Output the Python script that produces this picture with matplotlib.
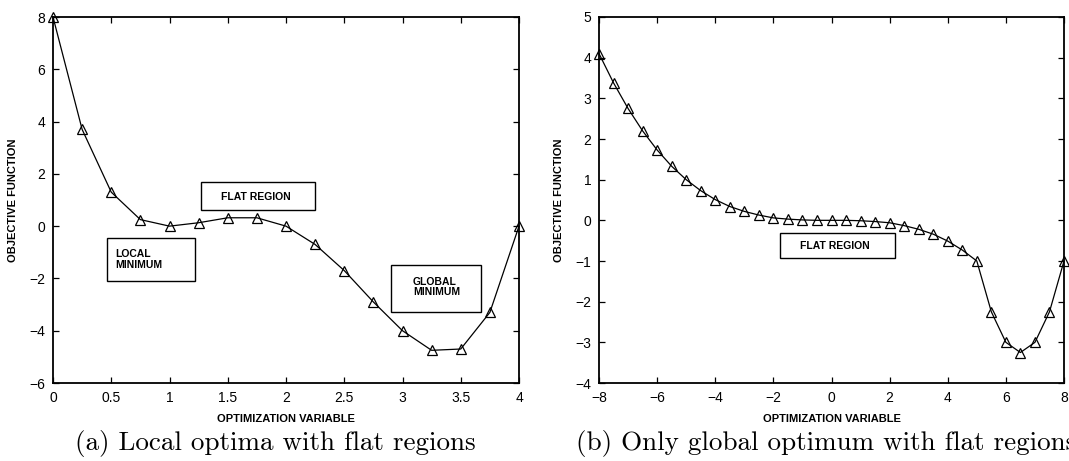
import matplotlib
matplotlib.use("Agg")
import matplotlib.pyplot as plt
import numpy as np

# ---- data ----
x_a = [0, 0.25, 0.5, 0.75, 1.0, 1.25, 1.5, 1.75, 2.0, 2.25, 2.5, 2.75, 3.0, 3.25, 3.5, 3.75, 4.0]
y_a = [8.0, 3.7, 1.3, 0.25, 0.0, 0.13, 0.32, 0.32, 0.0, -0.7, -1.7, -2.9, -4.0, -4.75, -4.7, -3.3, 0.0]

x_b = [-8, -7.5, -7, -6.5, -6, -5.5, -5, -4.5, -4, -3.5, -3, -2.5, -2, -1.5, -1, -0.5,
       0, 0.5, 1, 1.5, 2, 2.5, 3, 3.5, 4, 4.5, 5, 5.5, 6, 6.5, 7, 7.5, 8]
y_b = [4.1, 3.38, 2.75, 2.2, 1.73, 1.33, 1.0, 0.73, 0.51, 0.34, 0.22, 0.13, 0.06, 0.03,
       0.01, 0.0, 0.0, 0.0, -0.01, -0.03, -0.06, -0.13, -0.22, -0.34, -0.51, -0.73,
       -1.0, -2.25, -3.0, -3.25, -3.0, -2.25, -1.0]

xticks_a = [0, 0.5, 1, 1.5, 2, 2.5, 3, 3.5, 4]
yticks_a = [-6, -4, -2, 0, 2, 4, 6, 8]
xticks_b = [-8, -6, -4, -2, 0, 2, 4, 6, 8]
yticks_b = [-4, -3, -2, -1, 0, 1, 2, 3, 4, 5]

xlabel = "OPTIMIZATION VARIABLE"
ylabel = "OBJECTIVE FUNCTION"
caption_a = "(a) Local optima with flat regions"
caption_b = "(b) Only global optimum with flat regions"

# annotation boxes: (x0, x1, y0, y1, text, text_x, text_y)
boxes_a = [
    (1.274, 2.25, 0.62, 1.70, "FLAT REGION", 1.44, 1.10),
    (0.465, 1.22, -2.09, -0.46, "LOCAL\nMINIMUM", 0.533, -1.29),
    (2.904, 3.674, -3.29, -1.48, "GLOBAL\nMINIMUM", 3.09, -2.33),
]
boxes_b = [
    (-1.77, 2.19, -0.93, -0.32, "FLAT REGION", -1.09, -0.63),
]

plt.rcParams['font.family'] = ['Liberation Sans', 'DejaVu Sans']

W, H = 1069, 461
fig = plt.figure(figsize=(W / 100, H / 100), dpi=100)

def px_axes(l, r, t, b):
    return fig.add_axes([l / W, 1 - b / H, (r - l) / W, (b - t) / H])

ax_a = px_axes(53, 519, 17, 383)
ax_b = px_axes(599, 1064, 17, 383)

def style(ax, xt, yt, xl, yl):
    ax.set_xlim(*xl)
    ax.set_ylim(*yl)
    ax.set_xticks(xt)
    ax.set_yticks(yt)
    ax.set_xticklabels([("%g" % v).replace("-", "\u2212") for v in xt])
    ax.set_yticklabels([("%g" % v).replace("-", "\u2212") for v in yt])
    ax.tick_params(direction='in', length=4, width=0.9, top=True, right=True,
                   labelsize=10, pad=5.5)
    for s in ax.spines.values():
        s.set_linewidth(1.3)
    ax.set_xlabel(xlabel, fontsize=8, fontweight='bold', labelpad=7)
    ax.set_ylabel(ylabel, fontsize=8, fontweight='bold', labelpad=8)

def draw_boxes(ax, boxes):
    for (x0, x1, y0, y1, txt, tx, ty) in boxes:
        ax.add_patch(plt.Rectangle((x0, y0), x1 - x0, y1 - y0, fill=False,
                                   edgecolor='black', linewidth=1.0, zorder=4))
        ax.text(tx, ty, txt, fontsize=7.5, fontweight='bold', ha='left', va='center',
                linespacing=1.1, zorder=5)

for ax, xs, ys in ((ax_a, x_a, y_a), (ax_b, x_b, y_b)):
    ax.plot(xs, ys, color='black', linewidth=0.9, marker='^', markersize=7,
            markerfacecolor='none', markeredgecolor='black', markeredgewidth=0.9,
            clip_on=False, zorder=3)

style(ax_a, xticks_a, yticks_a, (0, 4), (-6, 8))
draw_boxes(ax_a, boxes_a)
style(ax_b, xticks_b, yticks_b, (-8, 8), (-4, 5))
draw_boxes(ax_b, boxes_b)

fig.text(275 / W, 1 - 443 / H, caption_a, fontsize=19.5,
         family='cmr10', ha='center', va='center')
fig.text(576 / W, 1 - 443 / H, caption_b, fontsize=19.5,
         family='cmr10', ha='left', va='center')

fig.savefig("out.png", dpi=100)
